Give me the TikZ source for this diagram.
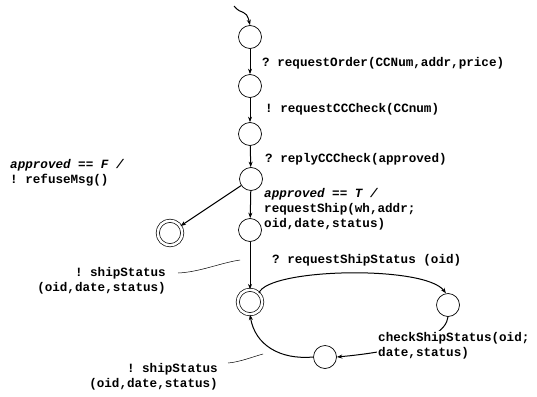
\documentclass[tikz,border=0pt]{standalone}
\usepackage{fontspec}
\setmonofont{Liberation Mono}
\usetikzlibrary{arrows.meta}
\tikzset{
  state/.style={circle,draw,line width=0.7pt,minimum size=23pt,inner sep=0pt},
  final/.style={circle,draw,double,double distance=2.5pt,line width=0.7pt,minimum size=24.5pt,inner sep=0pt},
  trans/.style={line width=1pt,-{Stealth[length=5.5pt,width=4pt]}},
  lbl/.style={font=\ttfamily\bfseries\fontsize{12.6}{15}\selectfont,inner sep=0pt,align=left},
  leader/.style={line width=0.5pt},
}
\begin{document}
\begin{tikzpicture}[x=1pt,y=-1pt]
\useasboundingbox (0,0) rectangle (537,396);
% states of the main chain
\node[state] (s0) at (250,37) {};
\node[state] (s1) at (250,86) {};
\node[state] (s2) at (250,134) {};
\node[state] (s3) at (251,179) {};
\node[state] (s4) at (250,230) {};
\node[final] (f1) at (170,233) {};
\node[final] (s5) at (250,302) {};
\node[state] (s6) at (448,305) {};
\node[state] (s7) at (325,357) {};
% initial arrow
\coordinate (init) at (234,6);
\draw[trans] (init) .. controls (242,16) and (246,8) .. (s0.north);
% chain transitions
\draw[trans] (s0) -- (s1);
\draw[trans] (s1) -- (s2);
\draw[trans] (s2) -- (s3);
\draw[trans] (s3) -- (s4);
\draw[trans] (s4) -- (s5);
\draw[trans] (s3) -- (f1);
% shipping status loop
\draw[trans] (s5.north east) .. controls (268,268) and (425,265) .. (s6.100);
\draw[trans] (s6.south) .. controls (445,345) and (370,354) .. (s7.east);
\draw[trans] (s7.west) .. controls (280,360) and (255,345) .. (s5.south);
% labels
\node[lbl,anchor=base west] (l1) at (262,66) {? requestOrder(CCNum,addr,price)};
\node[lbl,anchor=base west] (l2) at (265,112) {! requestCCCheck(CCnum)};
\node[lbl,anchor=base west] (l3) at (265,162) {? replyCCCheck(approved)};
\node[lbl,anchor=north west] (l4) at (264,188) {\itshape approved == T /\\requestShip(wh,addr;\\oid,date,status)};
\node[lbl,anchor=north west] (l5) at (10,159) {\itshape approved == F /\\! refuseMsg()};
\node[lbl,anchor=base west] (l6) at (272,263) {? requestShipStatus (oid)};
\node[lbl,anchor=north east,align=right] (l7) at (166,267) {! shipStatus\\(oid,date,status)};
\node[lbl,anchor=north west,fill=white,inner sep=1pt] (l8) at (377,331) {checkShipStatus(oid;\\date,status)};
\node[lbl,anchor=north east,align=right] (l9) at (218,363) {! shipStatus\\(oid,date,status)};
% leader lines
\coordinate (a1) at (240,260);
\coordinate (b1) at (178,273);
\coordinate (a2) at (263,354);
\coordinate (b2) at (228,363);
\draw[leader] (b1) .. controls (200,272) and (220,263) .. (a1);
\draw[leader] (b2) .. controls (240,362) and (252,357) .. (a2);
\end{tikzpicture}
\end{document}
